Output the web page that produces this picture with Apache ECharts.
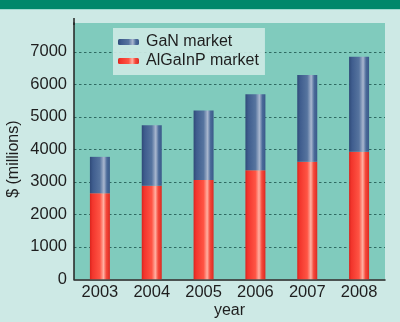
<!DOCTYPE html>
<html>
<head>
<meta charset="utf-8">
<script src="https://cdn.jsdelivr.net/npm/echarts@6/dist/echarts.min.js"></script>
<style>
  html, body { margin: 0; padding: 0; background: #cde9e5; }
  #chart { width: 400px; height: 322px; }
</style>
</head>
<body>
<div id="chart"></div>
<script>
// Market size by year, $ millions
const years = ['2003', '2004', '2005', '2006', '2007', '2008'];
const algainp = [2650, 2880, 3060, 3360, 3620, 3925];
const gan = [1120, 1860, 2140, 2340, 2670, 2925];
const seriesNames = ['GaN market', 'AlGaInP market'];

const FONT = '"Liberation Sans", Arial, sans-serif';

// cylinder-like horizontal shading
function shade(stops) {
  return new echarts.graphic.LinearGradient(0, 0, 1, 0,
    stops.map(([o, c]) => ({ offset: o, color: c })));
}
const redFill = shade([[0, '#d9241d'], [0.12, '#f2352c'], [0.5, '#ff5444'], [0.68, '#ffb0a2'], [0.82, '#f5493b'], [1, '#dc2a22']]);
const blueFill = shade([[0, '#2f4a78'], [0.15, '#3f5d8e'], [0.5, '#56749f'], [0.7, '#a9b7cf'], [0.85, '#4a6a99'], [1, '#3a5989']]);

const chart = echarts.init(document.getElementById('chart'), null, { renderer: 'canvas' });

chart.setOption({
  backgroundColor: '#cde9e5',
  animation: false,
  textStyle: { fontFamily: FONT },
  graphic: [
    { type: 'rect', left: 0, top: 0, shape: { width: 400, height: 9 }, style: { fill: '#00876b' }, z: 0 },
    { type: 'rect', left: 0, top: 9, shape: { width: 400, height: 1 }, style: { fill: '#9fd8cf' }, z: 0 },
    { type: 'rect', left: 73.25, top: 18, shape: { width: 1.5, height: 7 }, style: { fill: '#222' }, z: 10 }
  ],
  grid: {
    left: 74, right: 15, top: 23, bottom: 42.7,
    outerBoundsMode: 'none',
    containLabel: false,
    show: true, backgroundColor: '#80cbbd', borderWidth: 0
  },
  legend: {
    data: seriesNames,
    orient: 'vertical',
    left: 113, top: 28,
    padding: [6, 6, 6, 5],
    itemGap: 3,
    itemWidth: 21, itemHeight: 6,
    backgroundColor: 'rgba(204,233,228,0.92)',
    textStyle: { fontSize: 16, color: '#1e1e1e', fontFamily: FONT, padding: [0, 0, 0, 2] }
  },
  xAxis: {
    type: 'category',
    data: years,
    name: 'year',
    nameLocation: 'middle',
    nameMoveOverlap: false,
    nameGap: 23,
    nameTextStyle: { fontSize: 16, color: '#1e1e1e', fontFamily: FONT },
    axisLine: { lineStyle: { color: '#222', width: 1.5 } },
    axisTick: { inside: true, length: 6, lineStyle: { color: '#222', width: 1.5 } },
    axisLabel: { fontSize: 16.5, color: '#1e1e1e', margin: 5, fontFamily: FONT }
  },
  yAxis: {
    type: 'value',
    min: 0, max: 7890, interval: 1000,
    name: '$ (millions)',
    nameLocation: 'middle',
    nameMoveOverlap: false,
    nameRotate: 90,
    nameGap: 52,
    nameTextStyle: { fontSize: 16, color: '#1e1e1e', fontFamily: FONT, padding: [0, 16, 0, 0] },
    axisLine: { show: true, lineStyle: { color: '#222', width: 1.5 } },
    axisTick: { show: false },
    axisLabel: {
      fontSize: 16.5, color: '#1e1e1e', margin: 7, fontFamily: FONT, showMaxLabel: false,
      formatter: v => String(v)
    },
    splitLine: { show: true, showMinLine: false, showMaxLine: false, lineStyle: { color: '#2f6a62', type: [2.5, 2.5], width: 1 } }
  },
  series: [
    {
      name: 'AlGaInP market', type: 'bar', stack: 'm', data: algainp,
      barWidth: 20, itemStyle: { color: redFill }
    },
    {
      name: 'GaN market', type: 'bar', stack: 'm', data: gan,
      barWidth: 20, itemStyle: { color: blueFill }
    }
  ]
});
</script>
</body>
</html>
